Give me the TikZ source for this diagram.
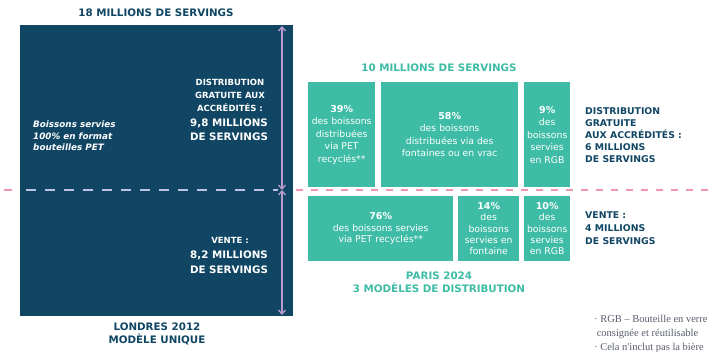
\documentclass[tikz,border=0pt]{standalone}
\usepackage{fontspec}
\setmainfont{DejaVu Sans}
\newfontfamily\notefont{Liberation Serif}
\usetikzlibrary{arrows.meta}
\definecolor{navy}{RGB}{16,70,100}
\definecolor{tealc}{RGB}{62,188,166}
\definecolor{pinkd}{RGB}{238,150,178}
\definecolor{lilac}{RGB}{185,155,205}
\definecolor{dashin}{RGB}{190,195,230}
\definecolor{notegray}{RGB}{90,95,110}
\newcommand\pctf{\bfseries\fontsize{9.5}{12}\selectfont}
\begin{document}
\begin{tikzpicture}[x=1pt,y=-1pt,
  bigtitle/.style={font=\bfseries\fontsize{10.3}{13}\selectfont, align=center, inner sep=0},
  smalltitle/.style={font=\bfseries\fontsize{8.5}{13}\selectfont, align=center, inner sep=0},
  sidetext/.style={font=\bfseries\fontsize{9.3}{12}\selectfont, text=navy, align=left, inner sep=0, anchor=west},
  tbox/.style={fill=tealc, draw=none, text=white, align=center, inner sep=0,
    font=\fontsize{9.3}{12.5}\selectfont},
  tboxlow/.style={tbox, font=\fontsize{9.3}{11.4}\selectfont},
  arr/.style={draw=lilac, line width=1.3pt, {Straight Barb[length=4pt,width=7pt]}-{Straight Barb[length=4pt,width=7pt]}}
]
\useasboundingbox (0,0) rectangle (716,352);
\clip (0,0) rectangle (716,352);
\fill[white] (0,0) rectangle (716,352);

% ---------- London 2012 ----------
\node[bigtitle, text=navy] (t18) at (156,13) {18 MILLIONS DE SERVINGS};
\node[fill=navy, minimum width=273pt, minimum height=291pt, inner sep=0, anchor=north west] (london) at (20,25) {};

% dashed separator
\draw[pinkd, line width=1.4pt, dash pattern=on 8pt off 8pt] (4,190) -- (20,190);
\draw[dashin, line width=1.6pt, dash pattern=on 10pt off 9pt] (26,190) -- (278,190);
\draw[pinkd, line width=1.2pt, dash pattern=on 7pt off 8pt] (296,190) -- (716,190);

\coordinate (atop) at (282,26);
\coordinate (amid) at (282,190);
\coordinate (abot) at (282,315);
\draw[arr] (atop) -- (amid);
\draw[arr] (amid) -- (abot);

\node[text=white, anchor=west, align=left, inner sep=0,
  font=\bfseries\itshape\fontsize{8.8}{11.5}\selectfont] (bois) at (33,136)
  {Boissons servies\\100\% en format\\bouteilles PET};

\node[smalltitle, text=white] (distL) at (230,95) {DISTRIBUTION\\GRATUITE AUX\\ACCRÉDITÉS :};
\node[bigtitle, text=white, font=\bfseries\fontsize{10.3}{14}\selectfont] (num98) at (229,130) {9,8 MILLIONS\\DE SERVINGS};
\node[smalltitle, text=white] (venteL) at (230,240) {VENTE :};
\node[bigtitle, text=white, font=\bfseries\fontsize{10.3}{15}\selectfont] (num82) at (229,262) {8,2 MILLIONS\\DE SERVINGS};

\node[bigtitle, text=navy] (londres) at (157,334) {LONDRES 2012\\MODÈLE UNIQUE};

% ---------- Paris 2024 ----------
\node[bigtitle, text=tealc] (t10) at (439,68) {10 MILLIONS DE SERVINGS};

\node[tbox, minimum width=67pt, minimum height=105pt, anchor=north west] (b39) at (308,82)
  {{\pctf 39\%}\\des boissons\\distribuées\\via PET\\recyclés**};
\node[tbox, minimum width=137pt, minimum height=105pt, anchor=north west] (b58) at (381,82)
  {{\pctf 58\%}\\des boissons\\distribuées via des\\fontaines ou en vrac};
\node[tbox, minimum width=46pt, minimum height=105pt, anchor=north west] (b9) at (524,82)
  {{\pctf 9\%}\\des\\boissons\\servies\\en RGB};

\node[tboxlow, minimum width=145pt, minimum height=65pt, anchor=north west] (b76) at (308,196)
  {{\pctf 76\%}\\des boissons servies\\via PET recyclés**};
\node[tboxlow, minimum width=61pt, minimum height=65pt, anchor=north west] (b14) at (458,196)
  {{\pctf 14\%}\\des\\boissons\\servies en\\fontaine};
\node[tboxlow, minimum width=46pt, minimum height=65pt, anchor=north west] (b10) at (524,196)
  {{\pctf 10\%}\\des\\boissons\\servies\\en RGB};

\node[sidetext] (distR) at (585,135) {DISTRIBUTION\\GRATUITE\\AUX ACCRÉDITÉS :\\6 MILLIONS\\DE SERVINGS};
\node[sidetext, font=\bfseries\fontsize{9.3}{13}\selectfont] (venteR) at (585,228) {VENTE :\\4 MILLIONS\\DE SERVINGS};

\node[bigtitle, text=tealc] (paris) at (439,282) {PARIS 2024\\3 MODÈLES DE DISTRIBUTION};

\node[anchor=north west, align=left, inner sep=0, text=notegray,
  font=\notefont\fontsize{10.5}{14}\selectfont] (note) at (594,315)
  {· RGB – Bouteille en verre\\\ consignée et réutilisable\\· Cela n'inclut pas la bière};
\end{tikzpicture}
\end{document}
